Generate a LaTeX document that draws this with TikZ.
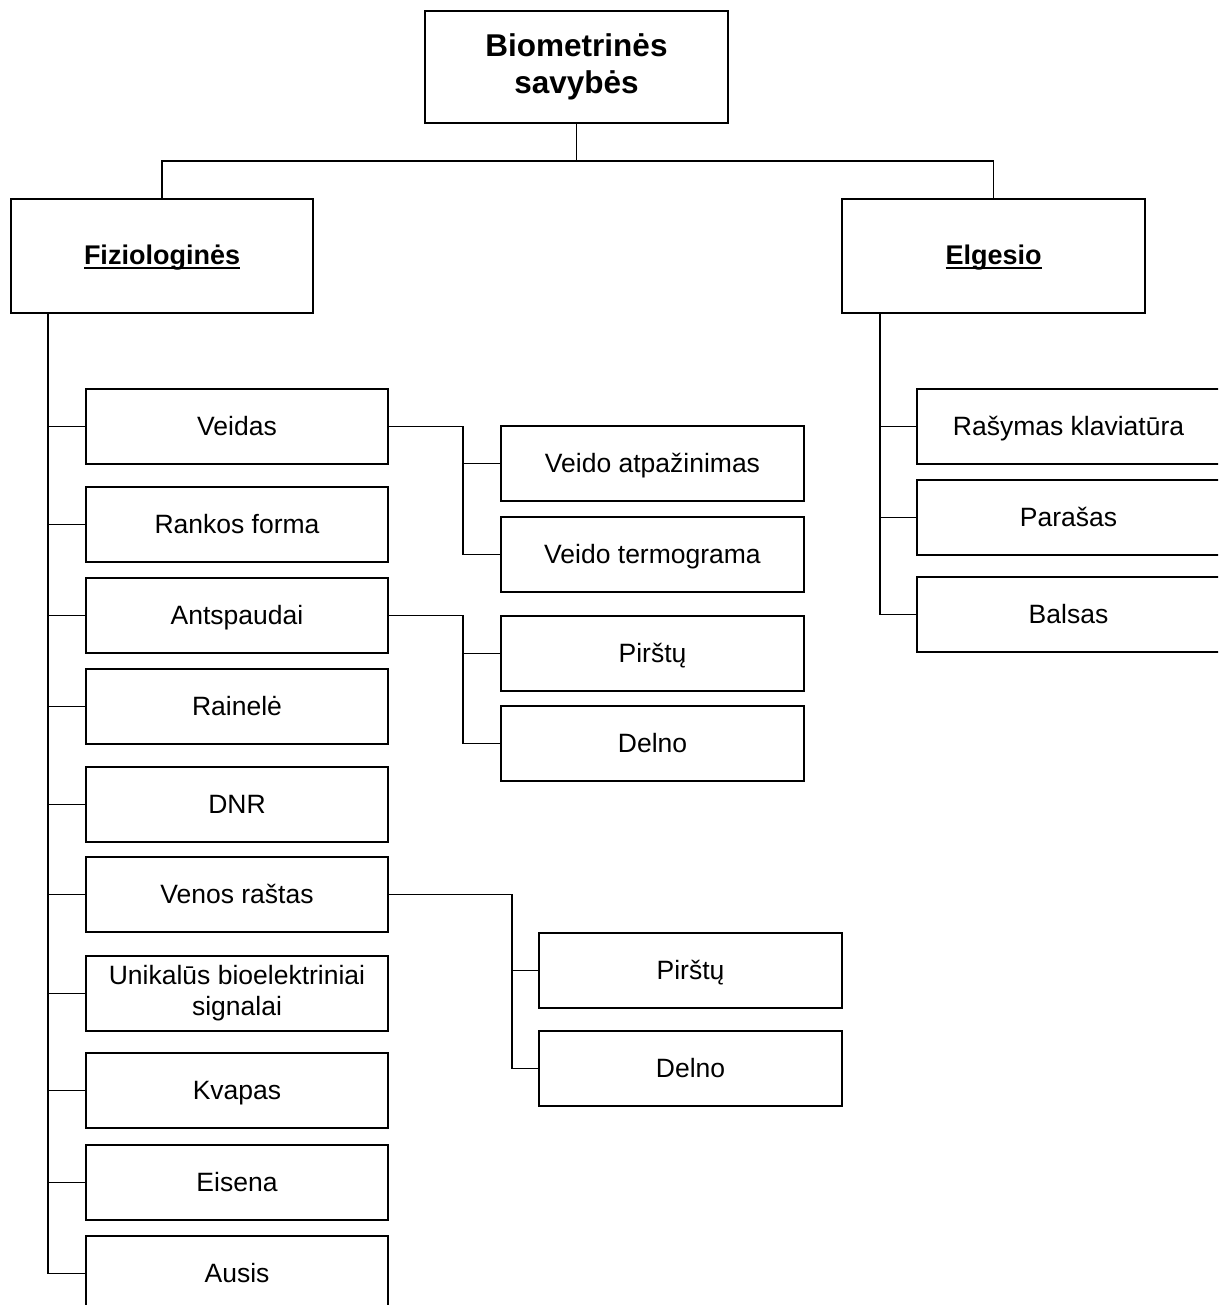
\documentclass[tikz,border=0pt]{standalone}
\usepackage{fontspec}
\setmainfont{Liberation Sans}
\newcommand\hdul[1]{\setbox0\hbox{#1}\rlap{\rule[-4.5pt]{\wd0}{2.2pt}}\box0}
\begin{document}
\begin{tikzpicture}[x=1pt,y=-1pt,
  line width=1.1pt,
  box/.style={draw, rectangle, inner sep=0pt, minimum width=302pt, minimum height=75pt,
    align=center, font=\fontsize{26.5}{31}\selectfont, text height=20pt, text depth=3pt},
  head/.style={draw, rectangle, inner sep=0pt, minimum width=302pt, minimum height=114pt,
    align=center, font=\bfseries\fontsize{27}{32}\selectfont, text height=20pt, text depth=2pt},
  link/.style={line width=1.1pt}]
\useasboundingbox (0,0) rectangle (1218,1305);
\clip (0,0) rectangle (1218,1305);
\fill[white] (0,0) rectangle (1218,1305);

% root
\node[draw, rectangle, inner sep=0pt, minimum width=303pt, minimum height=112pt,
  align=center, font=\bfseries\fontsize{31.5}{37}\selectfont] (root) at (576.5,67)
  {Biometrinės\\savybės};

% two main groups
\node[head] (fiz) at (162,256) {\hdul{Fiziologinės}};
\node[head, minimum width=303pt] (elg) at (993.5,256) {\hdul{Elgesio}};

\coordinate (bus) at (576.5,161);
\draw[link] (root.south) -- (bus);
\draw[link] (bus) -| (fiz.north);
\draw[link] (bus) -| (elg.north);

% physiological traits
\node[box] (veidas) at (237,426.5) {Veidas};
\node[box] (rankos) at (237,524.5) {Rankos forma};
\node[box] (antsp)  at (237,615.5) {Antspaudai};
\node[box] (rain)   at (237,706.5) {Rainelė};
\node[box] (dnr)    at (237,804.5) {DNR};
\node[box] (venos)  at (237,894.5) {Venos raštas};
\node[box, text height=, text depth=] (unik) at (237,993.5) {Unikalūs bioelektriniai\\signalai};
\node[box] (kvap)   at (237,1090.5) {Kvapas};
\node[box] (eis)    at (237,1182.5) {Eisena};
\node[box] (ausis)  at (237,1273.5) {Ausis};

\coordinate (ft) at (48,313);
\foreach \n in {veidas,rankos,antsp,rain,dnr,venos,unik,kvap,eis,ausis}
  \draw[link] (ft) |- (\n.west);

% face
\node[box, minimum width=303pt] (vatp)  at (652.5,463.5) {Veido atpažinimas};
\node[box, minimum width=303pt] (vterm) at (652.5,554.5) {Veido termograma};
\coordinate (vj) at (463,426.5);
\draw[link] (veidas.east) -- (vj) |- (vterm.west);
\draw[link] (vj) |- (vatp.west);

% prints
\node[box, minimum width=303pt] (apir) at (652.5,653.5) {Pirštų};
\node[box, minimum width=303pt] (adel) at (652.5,743.5) {Delno};
\coordinate (aj) at (463,615.5);
\draw[link] (antsp.east) -- (aj) |- (adel.west);
\draw[link] (aj) |- (apir.west);

% vein pattern
\node[box, minimum width=303pt] (vpir) at (690.5,970.5) {Pirštų};
\node[box, minimum width=303pt] (vdel) at (690.5,1068.5) {Delno};
\coordinate (nj) at (512,894.5);
\draw[link] (venos.east) -- (nj) |- (vdel.west);
\draw[link] (nj) |- (vpir.west);

% behavioural traits
\node[box, minimum width=303pt] (rasym) at (1068.5,426.5) {Rašymas klaviatūra};
\node[box, minimum width=303pt] (paras) at (1068.5,517.5) {Parašas};
\node[box, minimum width=303pt] (bals)  at (1068.5,614.5) {Balsas};
\coordinate (et) at (880,313);
\foreach \n in {rasym,paras,bals}
  \draw[link] (et) |- (\n.west);
\end{tikzpicture}
\end{document}
